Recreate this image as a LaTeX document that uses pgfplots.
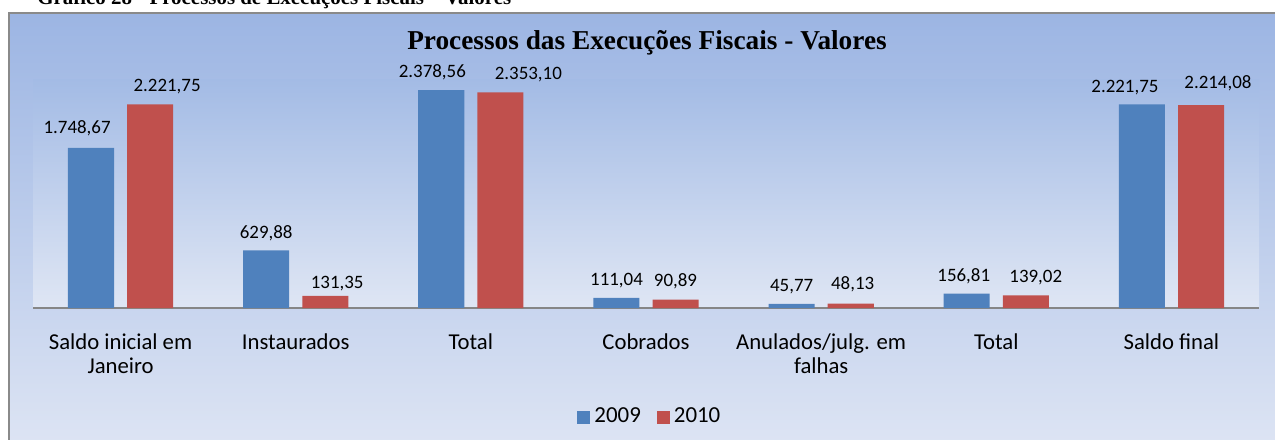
\documentclass[border=0pt]{standalone}
\usepackage{pgfplots}
\pgfplotsset{compat=1.18}
\usepackage{fontspec}
\setmainfont{Carlito}
\newfontfamily\serifbf{Liberation Serif}
\definecolor{barblue}{HTML}{4F81BD}
\definecolor{barred}{HTML}{C0504D}
\definecolor{chtop}{HTML}{9CB5E3}
\definecolor{chbot}{HTML}{DEE5F4}
\definecolor{patop}{HTML}{A3BBE5}
\definecolor{pabot}{HTML}{DFE6F4}
\definecolor{framegray}{HTML}{8A8A8A}
\definecolor{axgray}{HTML}{868686}

\pgfplotstableread{
x y dx dy
0 1748.67 -21.75 7
1 629.88 -14.75 6
2 2378.56 -19.25 6.5
3 111.04 -14.75 6
4 45.77 -14.75 6
5 156.81 -16.25 6
6 2221.75 -23.25 6
}\tabA
\pgfplotstableread{
x y dx dy
0 2221.75 23.25 6.5
1 131.35 20.75 3.5
2 2353.10 28.75 6.5
3 90.89 14.75 6.5
4 48.13 15.75 7
5 139.02 19.75 6.5
6 2214.08 23.25 8.5
}\tabB

\begin{document}
\begin{tikzpicture}
\useasboundingbox (0,0) rectangle (637.5bp,-220bp);
\clip (0,0) rectangle (637.5bp,-220bp);
% chart area
\shade[top color=chtop, bottom color=chbot] (4.5bp,-6.25bp) rectangle (645bp,-226bp);
\draw[framegray, line width=1bp] (4.5bp,-226bp) -- (4.5bp,-6.25bp) -- (645bp,-6.25bp);
% heading (cut off)
\node[anchor=base west, inner sep=0pt, font=\serifbf\bfseries\fontsize{10.5}{12}\selectfont] at (18.5bp,-2bp) {Gráfico 28 - Processos de Execuções Fiscais – Valores};
% title
\node[anchor=base, inner sep=0pt, font=\serifbf\bfseries\fontsize{13.7}{15}\selectfont] at (323.5bp,-24.5bp) {Processos das Execuções Fiscais - Valores};
\begin{axis}[
  at={(16.5bp,-154bp)}, anchor=south west,
  width=613bp, height=114.5bp, scale only axis,
  xmin=-0.5, xmax=6.5, ymin=0, ymax=2500,
  clip=false,
  axis background/.style={shade, top color=patop, bottom color=pabot},
  axis x line*=bottom, axis y line=none,
  x axis line style={draw=axgray, line width=0.9bp, -},
  xtick={0,...,6}, major tick length=0pt,
  xticklabels={{Saldo inicial em\\Janeiro},Instaurados,Total,Cobrados,{Anulados/julg. em\\falhas},Total,{Saldo final}},
  xticklabel style={align=center, anchor=north, inner sep=0pt, yshift=-12.5bp, font=\fontsize{11.4}{12}\selectfont},
  ytick=\empty,
  nodes near coords={\pgfmathprintnumber[fixed,fixed zerofill,precision=2,use comma,1000 sep={.},assume math mode=true]{\pgfplotspointmeta}},
  legend style={at={(0.504,-0.476)}, anchor=center, draw=none, fill=none, legend columns=2, font=\fontsize{11.5}{12}\selectfont, /tikz/every even column/.append style={column sep=6bp}},
]
\addplot[ybar, bar width=0.263, bar shift=-0.169, fill=barblue, draw=none,
  visualization depends on={\thisrow{dx} \as \dx},
  visualization depends on={\thisrow{dy} \as \dy},
  every node near coord/.append style={anchor=base, inner sep=0pt, xshift=\dx bp, yshift=\dy bp, font=\fontsize{9.5}{11}\selectfont, text=black},
  legend image code/.code={\fill[barblue] (0bp,-3.25bp) rectangle (6.5bp,3.25bp);}]
  table[x=x, y=y] {\tabA};
\addlegendentry{2009}
\addplot[ybar, bar width=0.263, bar shift=0.169, fill=barred, draw=none,
  visualization depends on={\thisrow{dx} \as \dx},
  visualization depends on={\thisrow{dy} \as \dy},
  every node near coord/.append style={anchor=base, inner sep=0pt, xshift=\dx bp, yshift=\dy bp, font=\fontsize{9.5}{11}\selectfont, text=black},
  legend image code/.code={\fill[barred] (0bp,-3.25bp) rectangle (6.5bp,3.25bp);}]
  table[x=x, y=y] {\tabB};
\addlegendentry{2010}
\end{axis}
\end{tikzpicture}
\end{document}
